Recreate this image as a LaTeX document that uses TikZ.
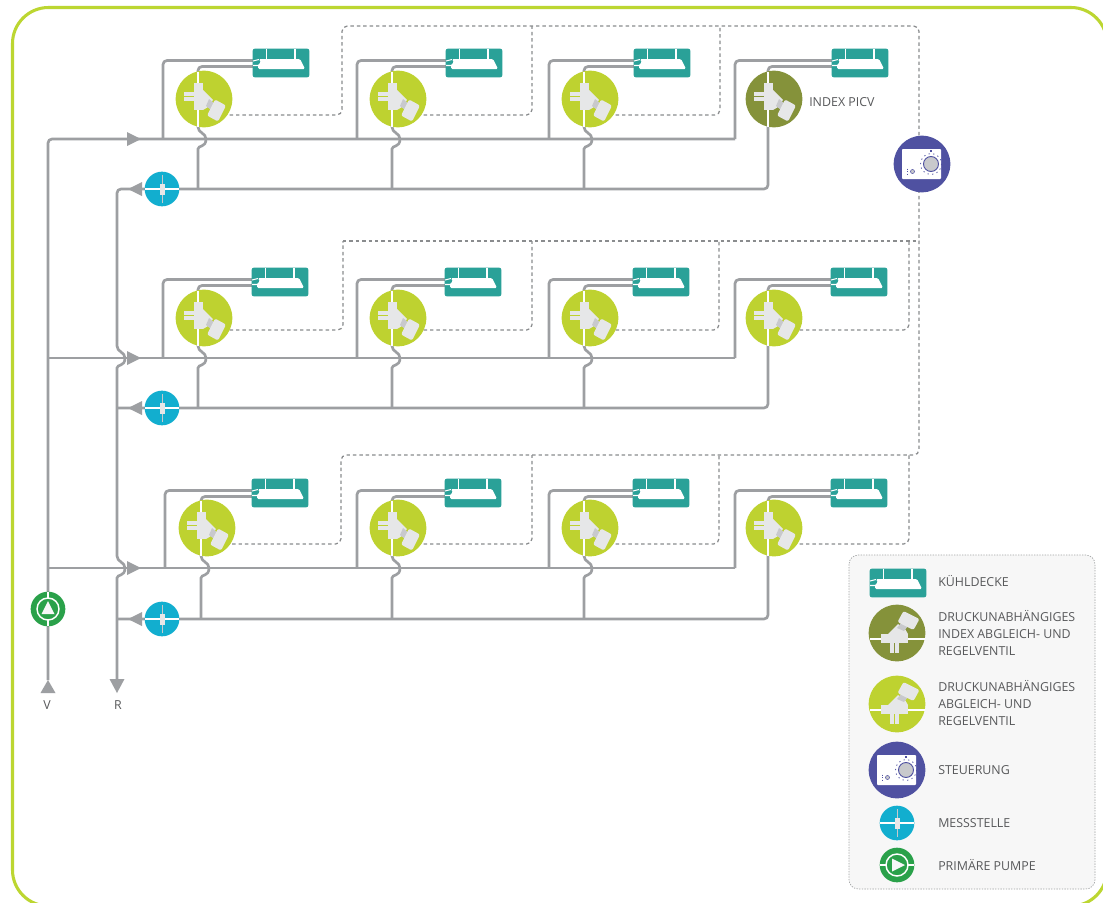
\documentclass[tikz,border=0pt]{standalone}
\usepackage{fontspec}
\setmainfont{Open Sans}
\pgfdeclarelayer{pipes}
\pgfsetlayers{pipes,main}
\definecolor{framegreen}{RGB}{188,214,49}
\definecolor{valvegreen}{RGB}{190,210,48}
\definecolor{valveolive}{RGB}{133,146,58}
\definecolor{ceilteal}{RGB}{42,161,152}
\definecolor{messcyan}{RGB}{18,174,207}
\definecolor{pumpgreen}{RGB}{42,161,74}
\definecolor{ctrlpurple}{RGB}{79,81,161}
\definecolor{pipegray}{RGB}{157,159,162}
\definecolor{dashgray}{RGB}{138,140,142}
\definecolor{bodygray}{RGB}{230,231,232}
\definecolor{neckgray}{RGB}{200,201,204}
\definecolor{txtgray}{RGB}{88,89,91}
\definecolor{legendbg}{RGB}{247,247,247}
\tikzset{
  pipe/.style={draw=pipegray,line width=2pt,rounded corners=3pt},
  ctlline/.style={draw=dashgray,line width=0.95pt,dash pattern=on 2.6pt off 2.2pt,rounded corners=4pt},
  valvenode/.style={circle,inner sep=0pt,minimum size=42.5pt,fill=#1},
  ceilnode/.style={rectangle,rounded corners=1.6pt,inner sep=0pt,minimum width=42.5pt,minimum height=21.5pt,fill=ceilteal},
  messnode/.style={circle,inner sep=0pt,minimum size=26pt,fill=messcyan},
  pumpnode/.style={circle,inner sep=0pt,minimum size=26pt,fill=pumpgreen},
  ctrlnode/.style={circle,inner sep=0pt,minimum size=42.5pt,fill=ctrlpurple},
  lab/.style={text=txtgray,font=\fontsize{9.3}{12.6}\selectfont,inner sep=0pt},
  leg/.style={lab,anchor=west,align=left},
}
\newcommand{\valveart}[2]{%
  \begin{scope}[shift={(#1)},rotate=#2]
    \draw[white,line width=1.2pt] (-6,-27.5) -- (-6,27.5);
    \fill[bodygray] (-10,-16) rectangle (-1,11);
    \fill[bodygray] (-20,-7) rectangle (-10,-3.5);
    \fill[bodygray] (-20,-2) rectangle (-10,1.5);
    \fill[bodygray] (-1,-9) -- (9,1) -- (4,8) -- (-1,11) -- cycle;
    \fill[neckgray] (5,0) -- (11,5) -- (7,11) -- (2,7) -- cycle;
    \fill[bodygray,rounded corners=1.5pt] (14,22.5) -- (3,16.5) -- (11,0.5) -- (22,6.5) -- cycle;
  \end{scope}}
\newcommand{\ceilart}[1]{%
  \begin{scope}[shift={(#1)}]
    \fill[white,rounded corners=1pt] (-22,-4) -- (19,-4) -- (24,6) -- (-23,6) -- (-23,1) -- (-20,0) -- cycle;
    \draw[white,line width=0.8pt] (-14.5,-14) -- (-14.5,-4) (14,-14) -- (14,-4);
    \draw[white,line width=0.8pt] (-28,-2) -- (-22,-3.5) (-28,2.5) -- (-22,2.5);
  \end{scope}}
\newcommand{\messart}[1]{%
  \begin{scope}[shift={(#1)}]
    \draw[white,line width=1.2pt] (-17,0) -- (17,0);
    \draw[neckgray,line width=0.7pt] (0,-14) -- (0,14);
    \fill[bodygray] (-2.5,-5.5) rectangle (2.5,5.5);
  \end{scope}}
\newcommand{\pumpart}[2]{%
  \begin{scope}[shift={(#1)},rotate=#2]
    \draw[white,line width=1.1pt] (0,0) circle[radius=11];
    \draw[white,line width=1.1pt] (0,-17) -- (0,-11) (0,11) -- (0,17);
    \fill[white!92!pipegray] (0,-8) -- (6.5,5) -- (-6.5,5) -- cycle;
  \end{scope}}
\newcommand{\ctrlart}[1]{%
  \begin{scope}[shift={(#1)}]
    \fill[white,rounded corners=0.6pt] (-20,-15) rectangle (19,15);
    \draw[ctrlpurple,dash pattern=on 0.9pt off 2.6pt,line width=0.6pt] (9,0) circle[radius=10.5];
    \fill[ctrlpurple] (8.2,-14.5) rectangle (10,-12.5);
    \filldraw[fill=neckgray,draw=ctrlpurple,line width=0.7pt] (9,0) circle[radius=7.5];
    \filldraw[fill=neckgray,draw=ctrlpurple,line width=0.4pt] (-9.5,7.5) circle[radius=2];
    \draw[ctrlpurple,dash pattern=on 0.9pt off 1pt,line width=0.6pt] (-14.5,4.5) -- (-14.5,10.5);
  \end{scope}}
\newcommand{\cellunit}[9]{%
  \node[valvenode=#2] (v#1) at (#3,#4) {};
  \node[ceilnode] (c#1) at (#5,#6) {};
  \coordinate (c#1a) at (#5-28,#6-2.5);
  \coordinate (c#1b) at (#5-28,#6+3.5);
  \coordinate (r#1t) at (#3-6,#4-20);
  \coordinate (r#1u) at (#3-6,#4+20);
  \coordinate (r#1b) at (#3-6,#9);
  \coordinate (b#1) at (#7,#8);
  \valveart{#3,#4}{0}
  \ceilart{#5,#6}
  \begin{pgfonlayer}{pipes}
    \draw[pipe] (r#1t) |- (c#1b);
    \draw[pipe] (b#1) |- (c#1a);
  \end{pgfonlayer}}
% id, riser x, supply y
\newcommand{\riserhop}[3]{%
  \begin{pgfonlayer}{pipes}
    \draw[pipe,rounded corners=0pt] (r#1b) -- (#2,#3+10) .. controls (#2,#3+6) and (#2+8,#3+9) .. (#2+8,#3) .. controls (#2+8,#3-6) and (#2,#3-6) .. (#2,#3-12) -- (r#1u);
  \end{pgfonlayer}}
% id, valve x, line y, vertical x, bus y
\newcommand{\ctlrun}[5]{%
  \coordinate (s#1) at (#2,#3);
  \begin{pgfonlayer}{pipes}
    \draw[ctlline] (s#1) -- (#4,#3) -- (#4,#5);
  \end{pgfonlayer}}
\newcommand{\tipright}[2]{\fill[pipegray] (#1,#2-7) -- (#1+14,#2) -- (#1,#2+7) -- cycle;}
\newcommand{\tipleft}[2]{\fill[pipegray] (#1,#2-7) -- (#1-14,#2) -- (#1,#2+7) -- cycle;}
\begin{document}
\begin{tikzpicture}[x=0.75pt,y=-0.75pt]
\useasboundingbox (0,0) rectangle (1103,903);
\begin{pgfonlayer}{pipes}
  \fill[white] (0,0) rectangle (1103,903);
  \draw[framegreen,line width=2.3pt,rounded corners=27pt] (12.5,7.5) rectangle (1107,906);
  \draw[dashgray!80,fill=legendbg,line width=0.5pt,dash pattern=on 1pt off 1pt,rounded corners=7pt] (849,555) rectangle (1095,889);
\end{pgfonlayer}

% row 1
\cellunit{a1}{valvegreen}{204}{99}{281}{63}{163}{139}{189}
\cellunit{a2}{valvegreen}{398}{99}{474}{63}{357}{139}{189}
\cellunit{a3}{valvegreen}{590}{99}{662}{63}{549}{139}{189}
\cellunit{a4}{valveolive}{774}{99}{860}{63}{735}{139}{189}
% row 2
\cellunit{e1}{valvegreen}{204}{318}{280}{282}{163}{358}{408}
\cellunit{e2}{valvegreen}{398}{318}{473}{282}{357}{358}{408}
\cellunit{e3}{valvegreen}{590}{318}{661}{282}{549}{358}{408}
\cellunit{e4}{valvegreen}{774}{318}{859}{282}{735}{358}{408}
% row 3
\cellunit{d1}{valvegreen}{207}{528}{280}{493}{165}{568}{619}
\cellunit{d2}{valvegreen}{398}{528}{473}{493}{357}{568}{619}
\cellunit{d3}{valvegreen}{590}{528}{661}{493}{549}{568}{619}
\cellunit{d4}{valvegreen}{774}{528}{859}{493}{735}{568}{619}

\riserhop{a1}{198}{139}\riserhop{a2}{392}{139}\riserhop{a3}{584}{139}
\riserhop{e1}{198}{358}\riserhop{e2}{392}{358}\riserhop{e3}{584}{358}
\riserhop{d1}{201}{568}\riserhop{d2}{392}{568}\riserhop{d3}{584}{568}

% measuring points, pump, controller
\node[messnode] (m1) at (162,189) {}; \messart{162,189}
\node[messnode] (m2) at (162,408) {}; \messart{162,408}
\node[messnode] (m3) at (162,619) {}; \messart{162,619}
\node[pumpnode] (pump) at (48,609) {}; \pumpart{48,609}{0}
\node[ctrlnode] (ctrl) at (922,164) {}; \ctrlart{922,164}

% labels
\node[lab,anchor=west] (indexlab) at (809,102) {INDEX PICV};
\node[lab] (vlab) at (47,705) {V};
\node[lab] (rlab) at (118,705) {R};

\coordinate (vtop) at (48,139);
\coordinate (vend) at (48,680);
\coordinate (rtop) at (117,189);
\coordinate (rend) at (117,680);
\coordinate (v2) at (48,358);
\coordinate (v3) at (48,568);
\coordinate (r2) at (117,408);
\coordinate (r3) at (117,619);

\begin{pgfonlayer}{pipes}
  % supply
  \draw[pipe] (vend) -- (vtop) -- (ba4);
  \draw[pipe] (v2) -- (be4);
  \draw[pipe] (v3) -- (bd4);
  % return
  \draw[pipe] (117,340) -- (rtop) -- (ra4b) -- (ra4u);
  \draw[pipe,rounded corners=0pt] (117,340) -- (117,346) .. controls (117,352) and (125,352) .. (125,358) .. controls (125,367) and (117,364) .. (117,368) -- (117,556) .. controls (117,562) and (125,562) .. (125,568) .. controls (125,577) and (117,574) .. (117,578) -- (rend);
  \draw[pipe] (r2) -- (re4b) -- (re4u);
  \draw[pipe] (r3) -- (rd4b) -- (rd4u);
\end{pgfonlayer}

% control lines
\ctlrun{a2}{398}{115}{532}{26}
\ctlrun{a3}{590}{115}{720}{26}
\ctlrun{e1}{204}{330}{343}{241}
\ctlrun{e2}{398}{330}{532}{241}
\ctlrun{e3}{590}{330}{719}{241}
\ctlrun{e4}{774}{330}{909}{241}
\ctlrun{d2}{398}{544}{532}{455}
\ctlrun{d3}{590}{544}{719}{455}
\ctlrun{d4}{774}{544}{909}{455}
\coordinate (sa1) at (204,115);
\coordinate (sd1) at (207,544);
\begin{pgfonlayer}{pipes}
  \draw[ctlline] (sa1) -- (342,115) -- (342,26) -- (919,26) -- (919,455) -- (341,455) -- (341,544) -- (sd1);
  \draw[ctlline,rounded corners=0pt] (343,241) -- (919,241);
\end{pgfonlayer}

% flow arrowheads
\tipright{127}{139}\tipright{127}{358}\tipright{127}{568}
\tipleft{142}{189}\tipleft{142}{408}\tipleft{142}{619}
\fill[pipegray] (48,680) -- (55.5,693) -- (40.5,693) -- cycle;
\fill[pipegray] (109.5,679) -- (124.5,679) -- (117,693) -- cycle;

% legend
\node[ceilnode] (lc) at (898,583) {}; \ceilart{898,583}
\node[valvenode=valveolive] (li) at (897,633) {}; \valveart{897,633}{90}
\node[valvenode=valvegreen] (lv) at (897,704) {}; \valveart{897,704}{90}
\node[ctrlnode] (ls) at (897,770) {}; \ctrlart{897,770}
\node[messnode] (lm) at (897,823) {}; \messart{897,823}
\node[pumpnode] (lp) at (897,865) {}; \pumpart{897,865}{-90}
\node[leg] (t1) at (938,581) {KÜHLDECKE};
\node[leg] (t2) at (938,633) {DRUCKUNABHÄNGIGES\\INDEX ABGLEICH- UND\\REGELVENTIL};
\node[leg] (t3) at (938,703) {DRUCKUNABHÄNGIGES\\ABGLEICH- UND\\REGELVENTIL};
\node[leg] (t4) at (938,770) {STEUERUNG};
\node[leg] (t5) at (938,823) {MESSSTELLE};
\node[leg] (t6) at (938,865) {PRIMÄRE PUMPE};
\end{tikzpicture}
\end{document}
